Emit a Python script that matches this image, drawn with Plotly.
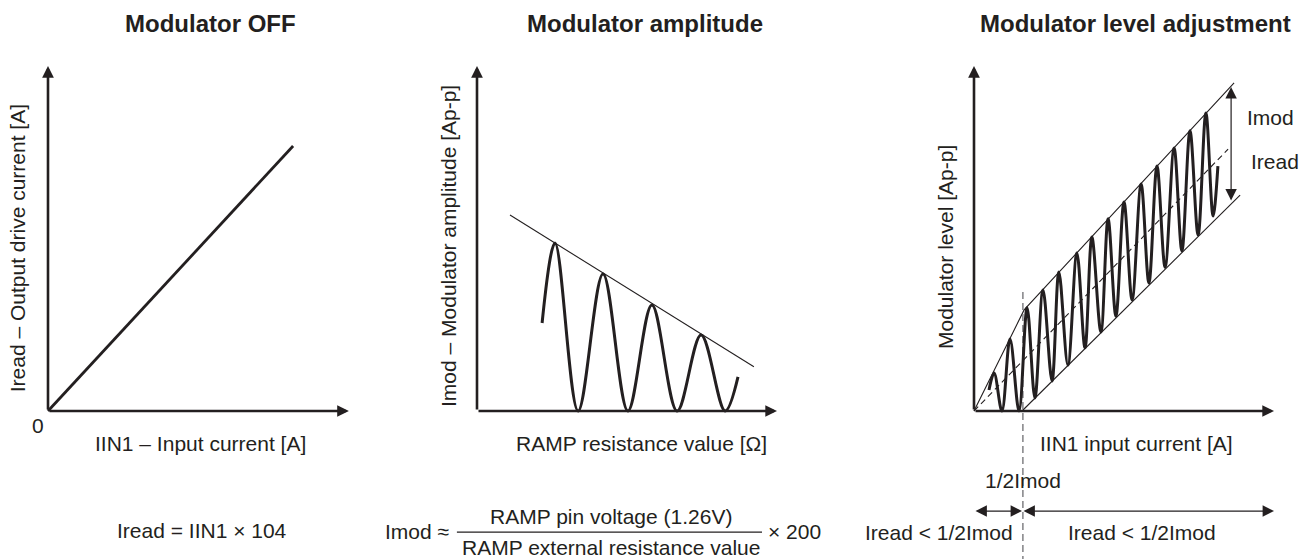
import plotly.graph_objects as go

INK = '#231f20'
FONT = 'Liberation Sans, Arial, sans-serif'

W, H = 1313, 559
# une unité d'axe en pixels (les axes font 10 unités de long)
PX_X, PX_Y = 30.0, 34.5
ORIGIN_Y = 411

# --- Modulator OFF : droite Iread = IIN1 x 104
off_x = [0, 8.17]
off_y = [0, 7.68]

# --- Modulator amplitude : sinus amorti (points hauts / bas)
amp_x = [2.17, 2.6, 3.37, 4.2, 5.03, 5.83, 6.67, 7.47, 8.27, 8.7]
amp_y = [2.55, 4.87, 0, 3.97, 0, 3.07, 0, 2.2, 0, 0.99]
amp_env_x = [1.1, 9.23]
amp_env_y = [5.68, 1.28]

# --- Modulator level adjustment
lvl_x = [0.5, 0.67, 0.93, 1.2, 1.5, 1.77, 2.03, 2.3, 2.6, 2.83, 3.13, 3.43, 3.7, 3.93,
         4.23, 4.47, 4.73, 5.0, 5.27, 5.57, 5.83, 6.1, 6.37, 6.67, 6.93, 7.2, 7.47,
         7.73, 7.97, 8.13]
lvl_y = [0.61, 1.1, 0, 2.09, 0, 2.99, 0.38, 3.51, 0.87, 4.03, 1.33, 4.58, 1.83, 5.04,
         2.29, 5.57, 2.75, 6.06, 3.22, 6.58, 3.71, 7.1, 4.17, 7.62, 4.64, 8.12, 5.1,
         8.64, 5.65, 7.1]
upper_x = [0, 1.67, 8.67]
upper_y = [0, 2.93, 9.51]
lower_x = [1.6, 8.87]
lower_y = [0, 6.26]
iread_x = [0, 8.47]
iread_y = [0, 7.59]
cut_x = [1.63, 1.63]
cut_y = [3.45, -4.3]

# (origine x en px, domaine gauche px, domaine droit px)
panels = [(48, 0, 440), (477, 370, 880), (974, 850, 1313)]

fig = go.Figure()
axes = {}
for i, (ox, left, right) in enumerate(panels, 1):
    s = '' if i == 1 else str(i)
    axes['xaxis' + s] = dict(domain=[left / W, right / W],
                             range=[(left - ox) / PX_X, (right - ox) / PX_X],
                             visible=False, anchor='y' + s)
    axes['yaxis' + s] = dict(domain=[0, 1],
                             range=[(ORIGIN_Y - H) / PX_Y, ORIGIN_Y / PX_Y],
                             visible=False, anchor='x' + s)


def line(x, y, n, width, dash='solid', color=INK, shape='linear'):
    s = '' if n == 1 else str(n)
    fig.add_trace(go.Scatter(x=x, y=y, mode='lines', xaxis='x' + s, yaxis='y' + s,
                             line=dict(color=color, width=width, dash=dash, shape=shape,
                                       smoothing=1.0),
                             hoverinfo='skip', showlegend=False))


line(off_x, off_y, 1, 2.8)
line(amp_env_x, amp_env_y, 2, 1.1)
line(amp_x, amp_y, 2, 3, shape='spline')
line(upper_x, upper_y, 3, 1.1)
line(lower_x, lower_y, 3, 1.1)
line(iread_x, iread_y, 3, 1.1, dash='6px,4px')
line(cut_x, cut_y, 3, 1.3, dash='7px,4px', color='#6d6e71')
line(lvl_x, lvl_y, 3, 3, shape='spline')

annotations = []


def arrow(n, x0, y0, x1, y1, width, size, both=False):
    s = '' if n == 1 else str(n)
    annotations.append(dict(xref='x' + s, yref='y' + s, axref='x' + s, ayref='y' + s,
                            x=x1, y=y1, ax=x0, ay=y0, text='', showarrow=True,
                            arrowhead=2, arrowsize=size, arrowwidth=width, arrowcolor=INK,
                            arrowside='end+start' if both else 'end',
                            startarrowhead=2, startarrowsize=size,
                            standoff=0, startstandoff=0))


def label(n, x, y, text, size=21, angle=0):
    s = '' if n == 1 else str(n)
    annotations.append(dict(xref='x' + s, yref='y' + s, x=x, y=y, text=text,
                            showarrow=False, textangle=angle,
                            font=dict(family=FONT, size=size, color=INK)))


# axes fléchés
for n, xend in [(1, 10.03), (2, 10), (3, 10)]:
    arrow(n, 0, 0, xend, 0, 2.6, 0.9)
    arrow(n, 0, 0, 0, 10, 2.6, 0.9)

# cotes du panneau 3
arrow(3, 8.57, 6.06, 8.57, 9.39, 1.2, 1.9, both=True)
arrow(3, 0, -2.9, 1.6, -2.9, 1.2, 1.9, both=True)
arrow(3, 1.6, -2.9, 10, -2.9, 1.2, 1.9, both=True)

# titres
label(1, 5.4, 11.22, '<b>Modulator OFF</b>', size=24)
label(2, 5.6, 11.22, '<b>Modulator amplitude</b>', size=24)
label(3, 5.37, 11.22, '<b>Modulator level adjustment</b>', size=24)

# panneau 1
label(1, -1.03, 4.72, 'Iread – Output drive current [A]', angle=-90)
label(1, -0.33, -0.41, '0')
label(1, 5.07, -0.93, 'IIN1 – Input current [A]')
label(1, 5.13, -3.45, 'Iread = IIN1 × 104')

# panneau 2
label(2, -0.97, 4.78, 'Imod – Modulator amplitude [Ap-p]', angle=-90)
label(2, 5.47, -0.93, 'RAMP resistance value [Ω]')
label(2, -2.0, -3.48, 'Imod ≈')
label(2, 4.47, -3.07, 'RAMP pin voltage (1.26V)')
label(2, 4.47, -3.97, 'RAMP external resistance value')
label(2, 10.57, -3.48, '× 200')

# panneau 3
label(3, -0.97, 4.75, 'Modulator level [Ap-p]', angle=-90)
label(3, 5.43, -0.93, 'IIN1 input current [A]')
label(3, 9.87, 8.52, 'Imod')
label(3, 10.03, 7.22, 'Iread')
label(3, 1.63, -2.0, '1/2Imod')
label(3, -1.17, -3.51, 'Iread < 1/2Imod')
label(3, 5.6, -3.51, 'Iread < 1/2Imod')

fig.update_layout(
    width=W, height=H,
    margin=dict(l=0, r=0, t=0, b=0),
    paper_bgcolor='white', plot_bgcolor='white',
    hovermode=False,
    annotations=annotations,
    shapes=[dict(type='line', xref='x2', yref='y2', x0=-0.67, x1=9.5, y0=-3.51, y1=-3.51,
                 line=dict(color=INK, width=1.2))],
    **axes
)

# la marge par défaut du <body> décale la figure de 8 px
fig.write_html("out.html", config={'displayModeBar': False},
               post_script="document.body.style.margin = '0';")
